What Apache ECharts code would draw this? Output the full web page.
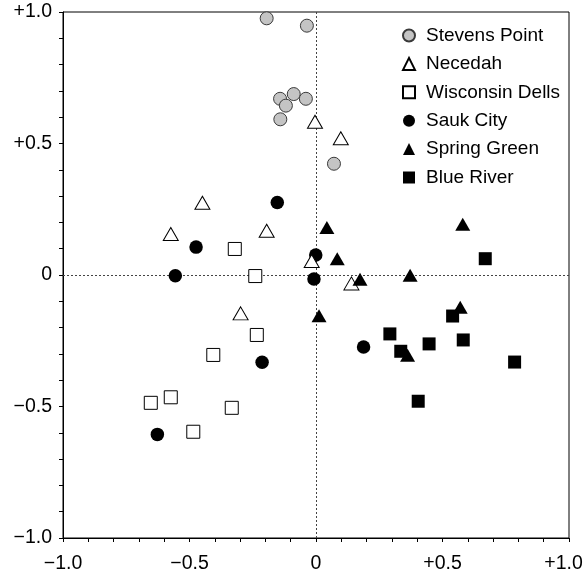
<!DOCTYPE html>
<html>
<head>
<meta charset="utf-8">
<script src="https://cdn.jsdelivr.net/npm/echarts@6/dist/echarts.min.js"></script>
<style>
html,body{margin:0;padding:0;background:#fff;}
#chart{width:585px;height:573px;}
</style>
</head>
<body>
<div id="chart"></div>
<script>
var tickValues = [-1, -0.5, 0, 0.5, 1];
var tickLabels = ['\u22121.0', '\u22120.5', '0', '+0.5', '+1.0'];

var siteNames = ['Stevens Point', 'Necedah', 'Wisconsin Dells', 'Sauk City', 'Spring Green', 'Blue River'];

var stevensPoint = [[-0.195, 0.976], [-0.036, 0.948], [-0.142, 0.670], [-0.088, 0.688], [-0.040, 0.670], [-0.119, 0.644], [-0.141, 0.592], [0.071, 0.423]];
var necedah = [[-0.004, 0.583], [0.098, 0.520], [-0.449, 0.275], [-0.574, 0.156], [-0.195, 0.168], [-0.017, 0.053], [0.140, -0.032], [-0.298, -0.146]];
var wisconsinDells = [[-0.321, 0.099], [-0.240, -0.004], [-0.234, -0.228], [-0.406, -0.304], [-0.574, -0.465], [-0.653, -0.486], [-0.333, -0.505], [-0.485, -0.596]];
var saukCity = [[-0.153, 0.276], [-0.474, 0.106], [-0.556, -0.003], [-0.001, 0.076], [-0.008, -0.015], [0.188, -0.274], [-0.213, -0.332], [-0.627, -0.606]];
var springGreen = [[0.043, 0.181], [0.084, 0.062], [0.174, -0.016], [0.372, -0.001], [0.580, 0.193], [0.012, -0.155], [0.570, -0.123], [0.362, -0.305]];
var blueRiver = [[0.669, 0.062], [0.540, -0.156], [0.292, -0.224], [0.447, -0.262], [0.582, -0.247], [0.335, -0.290], [0.785, -0.331], [0.404, -0.480]];

function makeFmt(isX) {
  return function (v) {
    for (var i = 0; i < tickValues.length; i++) {
      if (Math.abs(tickValues[i] - v) < 1e-9) {
        if (isX && i === tickValues.length - 1) return '{r|' + tickLabels[i] + '}';
        return tickLabels[i];
      }
    }
    return '';
  };
}

var FONT = 'Liberation Sans, Arial, Helvetica, sans-serif';

function axis(isX) {
  return {
    type: 'value', min: -1, max: 1, interval: 0.5,
    axisLine: {show: true, onZero: false, lineStyle: {color: '#000', width: 1}},
    axisTick: {show: true, length: 4, lineStyle: {color: '#000'}},
    minorTick: {show: true, splitNumber: 5, length: 4, lineStyle: {color: '#000'}},
    splitLine: {show: false},
    minorSplitLine: {show: false},
    axisLabel: {
      formatter: makeFmt(isX), color: '#000', fontSize: 19.5, fontFamily: FONT,
      margin: isX ? 16 : 11, showMinLabel: true, showMaxLabel: true, hideOverlap: false,
      rich: {r: {color: '#000', fontSize: 19.5, fontFamily: FONT, padding: [0, 11, 0, 0]}}
    }
  };
}

var chart = echarts.init(document.getElementById('chart'), null, {renderer: 'canvas'});

var series = [
  {name: siteNames[0], data: stevensPoint, symbol: 'circle', symbolSize: 13, z: 2,
   itemStyle: {color: '#c4c4c4', borderColor: '#3a3a3a', borderWidth: 1, opacity: 1}},
  {name: siteNames[1], data: necedah, symbol: 'triangle', symbolSize: [15, 13], z: 4,
   itemStyle: {color: '#fff', borderColor: '#000', borderWidth: 1, opacity: 1}},
  {name: siteNames[2], data: wisconsinDells, symbol: 'rect', symbolSize: 13, z: 3,
   itemStyle: {color: '#fff', borderColor: '#000', borderWidth: 1, opacity: 1}},
  {name: siteNames[3], data: saukCity, symbol: 'circle', symbolSize: 13.5, z: 3,
   itemStyle: {color: '#000', borderColor: '#000', borderWidth: 0, opacity: 1}},
  {name: siteNames[4], data: springGreen, symbol: 'triangle', symbolSize: [15, 13], z: 5,
   itemStyle: {color: '#000', borderColor: '#000', borderWidth: 0, opacity: 1}},
  {name: siteNames[5], data: blueRiver, symbol: 'rect', symbolSize: 13, z: 4,
   itemStyle: {color: '#000', borderColor: '#000', borderWidth: 0, opacity: 1}}
].map(function (s) {
  s.type = 'scatter';
  s.emphasis = {disabled: true};
  s.animation = false;
  return s;
});

series[0].markLine = {
  silent: true, symbol: 'none', animation: false, z: 1,
  label: {show: false},
  lineStyle: {type: [2, 2], color: '#444', width: 1},
  data: [{xAxis: 0}, {yAxis: 0}]
};

chart.setOption({
  animation: false,
  backgroundColor: '#fff',
  grid: {left: 63, right: 16, top: 12, bottom: 35, containLabel: false, outerBoundsMode: 'none',
         show: true, borderColor: '#000', borderWidth: 1, backgroundColor: 'transparent'},
  xAxis: axis(true),
  yAxis: axis(false),
  legend: {
    orient: 'vertical', left: 397, top: 21,
    itemWidth: 12, itemHeight: 12, itemGap: 9.4,
    selectedMode: false,
    textStyle: {color: '#000', fontSize: 19, fontFamily: FONT, lineHeight: 19, padding: [0, 0, 0, 6]},
    data: siteNames
  },
  series: series
});
</script>
</body>
</html>
